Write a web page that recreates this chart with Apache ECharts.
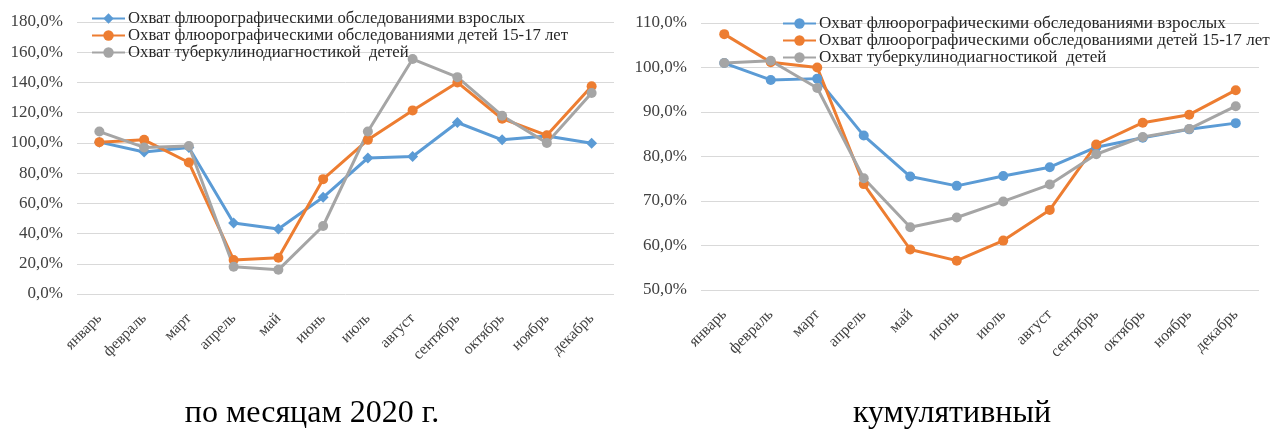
<!DOCTYPE html>
<html>
<head>
<meta charset="utf-8">
<script src="https://cdn.jsdelivr.net/npm/echarts@6/dist/echarts.min.js"></script>
<style>
  html, body { margin: 0; padding: 0; background: #ffffff; }
  #chart { width: 1271px; height: 429px; }
</style>
</head>
<body>
<div id="chart"></div>
<script>
// Month categories shared by both panels
const months = ['январь', 'февраль', 'март', 'апрель', 'май', 'июнь', 'июль', 'август', 'сентябрь', 'октябрь', 'ноябрь', 'декабрь'];

const seriesNames = [
  'Охват флюорографическими обследованиями взрослых',
  'Охват флюорографическими обследованиями детей 15-17 лет',
  'Охват туберкулинодиагностикой  детей'
];

// Monthly coverage, 2020 (%)
const monthlyAdults   = [100.5, 94, 97, 47, 43, 64, 90, 91, 113.5, 102, 104.5, 99.7];
const monthlyTeens    = [100.5, 102, 87, 22.5, 24, 76, 102, 121.5, 140, 116, 105, 137.5];
const monthlyTubercul = [107.5, 97, 98, 18, 16, 45, 107.5, 155.5, 143.5, 118, 100, 133];

// Cumulative coverage (%)
const cumulAdults   = [101.0, 97.2, 97.5, 84.7, 75.5, 73.4, 75.6, 77.6, 82.1, 84.2, 86.1, 87.5];
const cumulTeens    = [107.5, 101.2, 100.0, 73.8, 59.1, 56.6, 61.1, 68.0, 82.7, 87.6, 89.4, 94.9];
const cumulTubercul = [101.0, 101.5, 95.4, 75.1, 64.1, 66.3, 69.9, 73.7, 80.5, 84.4, 86.2, 91.3];

const panelTitles = ['по месяцам 2020 г.', 'кумулятивный'];

const colors = ['#5B9BD5', '#ED7D31', '#A5A5A5'];
const serif = '"Liberation Serif", "DejaVu Serif", serif';

// Series of the right panel get a zero-width suffix so that its legend
// picks up its own (circle) symbols instead of the left panel's ones.
const ZW = '\u200b';
const rightNames = seriesNames.map(n => n + ZW);

const pct = v => v.toFixed(1).replace('.', ',') + '%';

function lineSeries(name, data, idx, color, symbol, size) {
  return {
    name: name,
    type: 'line',
    xAxisIndex: idx,
    yAxisIndex: idx,
    data: data,
    symbol: symbol,
    symbolSize: size,
    lineStyle: { width: 3, color: color },
    itemStyle: { color: color },
    emphasis: { disabled: true },
    animation: false
  };
}

function xAxis(gridIndex, fontSize) {
  return {
    type: 'category',
    gridIndex: gridIndex,
    data: months,
    boundaryGap: true,
    axisLine: { show: false },
    axisTick: { show: false },
    axisLabel: {
      rotate: 45,
      margin: 22,
      interval: 0,
      color: '#404040',
      fontFamily: serif,
      fontSize: fontSize
    }
  };
}

function yAxis(gridIndex, min, max, interval, fontSize) {
  return {
    type: 'value',
    gridIndex: gridIndex,
    min: min,
    max: max,
    interval: interval,
    axisLine: { show: false },
    axisTick: { show: false },
    splitLine: { lineStyle: { color: '#D9D9D9', width: 1 } },
    axisLabel: {
      margin: 14,
      color: '#404040',
      fontFamily: serif,
      fontSize: fontSize,
      formatter: pct
    }
  };
}

function legend(names, left, top, itemWidth, fontSize, lineHeight) {
  return {
    data: names,
    orient: 'vertical',
    left: left,
    top: top,
    padding: 0,
    itemWidth: itemWidth,
    itemHeight: 13,
    itemGap: 0,
    formatter: n => n.replace(ZW, ''),
    textStyle: { fontFamily: serif, fontSize: fontSize, color: '#262626', lineHeight: lineHeight, padding: [0, 0, 0, -2] },
    selectedMode: false
  };
}

const chart = echarts.init(document.getElementById('chart'), null, { renderer: 'canvas' });

chart.setOption({
  backgroundColor: '#ffffff',
  animation: false,
  grid: [
    { left: 77, right: 657, top: 22, bottom: 135 },
    { left: 701, right: 12, top: 23, bottom: 139 }
  ],
  xAxis: [xAxis(0, 15.5), xAxis(1, 16)],
  yAxis: [yAxis(0, 0, 180, 20, 17), yAxis(1, 50, 110, 10, 17)],
  legend: [
    legend(seriesNames, 91, 10, 33, 16.7, 16.5),
    legend(rightNames, 782, 15, 33, 17.1, 16.7)
  ],
  title: [
    {
      text: panelTitles[0],
      left: 312,
      textAlign: 'center',
      top: 398,
      padding: 0,
      textStyle: { fontFamily: serif, fontSize: 32, fontWeight: 'normal', color: '#000000' }
    },
    {
      text: panelTitles[1],
      left: 952,
      textAlign: 'center',
      top: 398,
      padding: 0,
      textStyle: { fontFamily: serif, fontSize: 32, fontWeight: 'normal', color: '#000000' }
    }
  ],
  series: [
    lineSeries(seriesNames[0], monthlyAdults, 0, colors[0], 'diamond', 11),
    lineSeries(seriesNames[1], monthlyTeens, 0, colors[1], 'circle', 10),
    lineSeries(seriesNames[2], monthlyTubercul, 0, colors[2], 'circle', 10),
    lineSeries(rightNames[0], cumulAdults, 1, colors[0], 'circle', 10),
    lineSeries(rightNames[1], cumulTeens, 1, colors[1], 'circle', 10),
    lineSeries(rightNames[2], cumulTubercul, 1, colors[2], 'circle', 10)
  ]
});
</script>
</body>
</html>
